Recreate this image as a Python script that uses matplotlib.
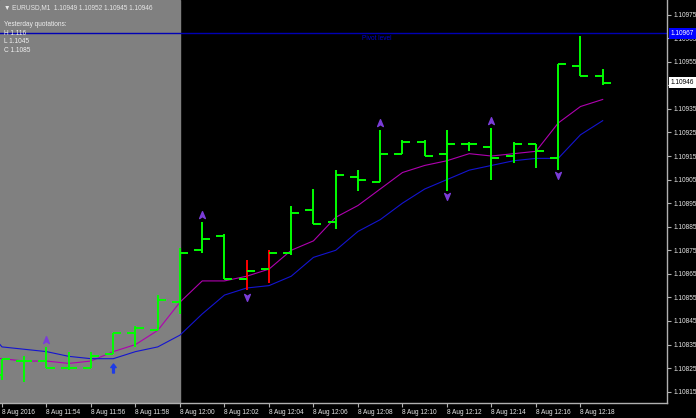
import numpy as np
import matplotlib
matplotlib.use("Agg")
import matplotlib.pyplot as plt
from matplotlib.path import Path

plt.rcParams['font.family'] = ['Liberation Sans', 'DejaVu Sans']

# EURUSD M1 bars, 8 Aug 2016 11:52 .. 12:19
opens = [1.10822, 1.10828, 1.10828, 1.10825, 1.10825, 1.10831, 1.10840, 1.10841,
         1.10853, 1.10875, 1.10881, 1.10863, 1.10867, 1.10874, 1.10892, 1.10887,
         1.10906, 1.10904, 1.10916, 1.10921, 1.10916, 1.10920, 1.10919, 1.10915,
         1.10920, 1.10914, 1.10953, 1.10949]
highs = [1.10829, 1.10830, 1.10834, 1.10832, 1.10832, 1.10840, 1.10843, 1.10856,
         1.10876, 1.10887, 1.10882, 1.10871, 1.10875, 1.10894, 1.10901, 1.10909,
         1.10909, 1.10926, 1.10922, 1.10922, 1.10926, 1.10921, 1.10927, 1.10921,
         1.10920, 1.10954, 1.10966, 1.10952]
lows = [1.10820, 1.10819, 1.10825, 1.10824, 1.10825, 1.10831, 1.10834, 1.10841,
        1.10848, 1.10874, 1.10863, 1.10858, 1.10861, 1.10873, 1.10886, 1.10884,
        1.10900, 1.10904, 1.10916, 1.10915, 1.10900, 1.10917, 1.10905, 1.10912,
        1.10910, 1.10909, 1.10949, 1.10945]
closes = [1.10829, 1.10828, 1.10825, 1.10825, 1.10830, 1.10840, 1.10842, 1.10854,
          1.10874, 1.10880, 1.10863, 1.10866, 1.10874, 1.10891, 1.10886, 1.10907,
          1.10905, 1.10916, 1.10921, 1.10915, 1.10920, 1.10920, 1.10914, 1.10920,
          1.10917, 1.10954, 1.10949, 1.10946]
red_bars = [11, 12]

ma_fast = [1.10829, 1.10828, 1.10828, 1.10827, 1.10828, 1.10832, 1.10835, 1.10841,
           1.10853, 1.10862, 1.10862, 1.10864, 1.10867, 1.10875, 1.10879, 1.10889,
           1.10894, 1.10901, 1.10908, 1.10911, 1.10913, 1.10916, 1.10915, 1.10916,
           1.10917, 1.10929, 1.10936, 1.10939]
ma_slow = [1.10834, 1.10833, 1.10832, 1.10830, 1.10829, 1.10829, 1.10832, 1.10834,
           1.10839, 1.10848, 1.10856, 1.10859, 1.10860, 1.10864, 1.10872, 1.10875,
           1.10883, 1.10888, 1.10895, 1.10901, 1.10905, 1.10909, 1.10911, 1.10913,
           1.10914, 1.10914, 1.10924, 1.10930]

up_idx = [2, 9, 17, 22]
up_val = [1.10837, 1.10890, 1.10929, 1.10930]
down_idx = [11, 20, 25]
down_val = [1.10855, 1.10898, 1.10907]
buy_idx = [5]
buy_val = [1.10825]

pivot = 1.10967
last_close = 1.10946
shade_end = 8

time_labels = ['8 Aug 2016', '8 Aug 11:54', '8 Aug 11:56', '8 Aug 11:58', '8 Aug 12:00',
               '8 Aug 12:02', '8 Aug 12:04', '8 Aug 12:06', '8 Aug 12:08', '8 Aug 12:10',
               '8 Aug 12:12', '8 Aug 12:14', '8 Aug 12:16', '8 Aug 12:18']
price_ticks = [1.10815, 1.10825, 1.10835, 1.10845, 1.10855, 1.10865, 1.10875, 1.10885,
               1.10895, 1.10905, 1.10915, 1.10925, 1.10935, 1.10945, 1.10955, 1.10965,
               1.10975]

FS = 4.7
GREEN = '#00FF00'

fig = plt.figure(figsize=(6.96, 4.18), dpi=100, facecolor='black')
ax = fig.add_axes([0, 15 / 418, 667 / 696, 1 - 15 / 418])
ax.set_facecolor('black')
ax.set_xlim(-0.09, 29.89)
ax.set_ylim(1.108102, 1.109812)

ax.axvspan(-0.09, shade_end, color='#808080', zorder=0)

x = np.arange(len(opens))
tick = 0.36
colors = ['#FF0000' if i in red_bars else GREEN for i in x]
ax.vlines(x, lows, highs, colors=colors, lw=1.4, zorder=3)
ax.hlines(opens, x - tick, x, colors=GREEN, lw=1.4, zorder=3)
ax.hlines(closes, x, x + tick, colors=GREEN, lw=1.4, zorder=3)

ax.plot(np.r_[-0.09, x], np.r_[ma_fast[0], ma_fast], color='#B000B0', lw=0.8, zorder=2)
ax.plot(np.r_[-0.09, x], np.r_[ma_slow[0] + 0.00001, ma_slow], color='#1414D0', lw=0.8,
        zorder=2)

arrow_up = Path([(0, 1), (0.75, -0.8), (0, -0.3), (-0.75, -0.8), (0, 1)],
                [Path.MOVETO, Path.LINETO, Path.LINETO, Path.LINETO, Path.CLOSEPOLY])
arrow_dn = Path([(0, -1), (0.75, 0.8), (0, 0.3), (-0.75, 0.8), (0, -1)],
                [Path.MOVETO, Path.LINETO, Path.LINETO, Path.LINETO, Path.CLOSEPOLY])
buy_arrow = Path([(0, 1), (0.6, 0.2), (0.2, 0.2), (0.2, -1), (-0.2, -1), (-0.2, 0.2),
                  (-0.6, 0.2), (0, 1)],
                 [Path.MOVETO] + [Path.LINETO] * 6 + [Path.CLOSEPOLY])
ax.plot(up_idx, up_val, ls='none', marker=arrow_up, ms=5.5, color='#7A3CD8', zorder=4)
ax.plot(down_idx, down_val, ls='none', marker=arrow_dn, ms=5.5, color='#7A3CD8', zorder=4)
ax.plot(buy_idx, buy_val, ls='none', marker=buy_arrow, ms=6.5, color='#1E3CE6', zorder=4)

ax.axhline(pivot, color='#0000B4', lw=1.0, zorder=2)
ax.annotate('Pivot level', (16.2, pivot), xytext=(0, -1.2), textcoords='offset points',
            va='top', ha='left', fontsize=FS, color='#0000D0')

# axes styling
for side in ['left', 'top']:
    ax.spines[side].set_visible(False)
for side in ['right', 'bottom']:
    ax.spines[side].set_color('#B0B0B0')
    ax.spines[side].set_linewidth(1.0)

ax.yaxis.tick_right()
ax.set_yticks(price_ticks)
ax.set_yticklabels(['%.5f' % p for p in price_ticks])
ax.set_xticks(np.arange(0, len(opens), 2))
ax.set_xticklabels(time_labels, ha='left')
ax.tick_params(axis='y', direction='out', length=3, width=0.8, color='#B0B0B0',
               labelcolor='#E6E6E6', labelsize=FS, pad=1.5)
ax.tick_params(axis='x', direction='out', length=3, width=0.8, color='#B0B0B0',
               labelcolor='#E6E6E6', labelsize=FS, pad=1.5)

ytr = ax.get_yaxis_transform()
ax.text(1.0055, pivot, '%.5f' % pivot, transform=ytr, va='center', ha='left',
        fontsize=FS, color='white', clip_on=False, zorder=10,
        bbox=dict(fc='#0000FF', ec='none', boxstyle='square,pad=0.3'))
ax.text(1.0055, last_close, '%.5f' % last_close, transform=ytr, va='center', ha='left',
        fontsize=FS, color='black', clip_on=False, zorder=10,
        bbox=dict(fc='white', ec='none', boxstyle='square,pad=0.3'))

# info text in the upper left corner
ax.text(0.006, 0.99, '\u25bc EURUSD,M1  1.10949 1.10952 1.10945 1.10946',
        transform=ax.transAxes, va='top', ha='left', fontsize=FS, color='#E8E8E8')
info = ['Yesterday quotations:', 'H 1.116', 'L 1.1045', 'C 1.1085']
for k, line in enumerate(info):
    ax.text(0.006, 0.947 - k * 0.021, line, transform=ax.transAxes, va='top',
            ha='left', fontsize=FS, color='#F0F0F0')

fig.savefig('out.png', dpi=100, facecolor='black')
